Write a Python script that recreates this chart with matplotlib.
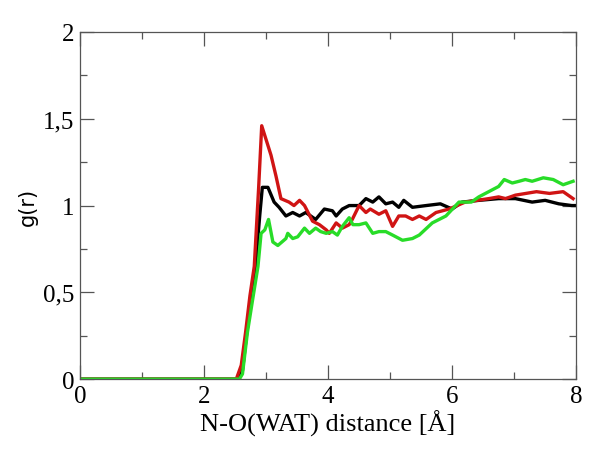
import matplotlib
matplotlib.use('Agg')
import matplotlib.pyplot as plt
from matplotlib.ticker import MultipleLocator, FuncFormatter

# g(r) curves (r in Angstrom)
black_r = [0, 2.55, 2.62, 2.69, 2.76, 2.83, 2.90, 2.94, 3.03, 3.13, 3.21, 3.32,
           3.43, 3.54, 3.64, 3.80, 3.94, 4.07, 4.13, 4.23, 4.34, 4.50, 4.61,
           4.72, 4.82, 4.93, 5.04, 5.14, 5.22, 5.36, 5.58, 5.81, 6.00, 6.16,
           6.43, 6.75, 7.02, 7.29, 7.50, 7.72, 7.93, 8.0]
black_g = [0, 0, 0.05, 0.27, 0.45, 0.65, 0.95, 1.105, 1.105, 1.02, 0.99, 0.94,
           0.96, 0.94, 0.96, 0.92, 0.98, 0.97, 0.94, 0.98, 1.00, 1.00, 1.04,
           1.02, 1.05, 1.01, 1.02, 0.99, 1.03, 0.99, 1.00, 1.01, 0.98, 1.02,
           1.03, 1.04, 1.04, 1.02, 1.03, 1.01, 1.00, 1.00]

red_r = [0, 2.52, 2.60, 2.67, 2.74, 2.81, 2.88, 2.93, 3.08, 3.16, 3.24, 3.37,
         3.45, 3.54, 3.62, 3.75, 3.86, 3.97, 4.02, 4.13, 4.23, 4.34, 4.39,
         4.50, 4.61, 4.68, 4.82, 4.93, 5.04, 5.14, 5.25, 5.36, 5.47, 5.58,
         5.74, 5.95, 6.21, 6.59, 6.75, 6.86, 7.02, 7.36, 7.57, 7.79, 7.95]
red_g = [0, 0, 0.08, 0.27, 0.48, 0.65, 1.10, 1.46, 1.29, 1.17, 1.04, 1.02,
         1.00, 1.03, 1.00, 0.91, 0.89, 0.86, 0.84, 0.90, 0.87, 0.89, 0.92,
         1.00, 0.96, 0.98, 0.95, 0.97, 0.88, 0.94, 0.94, 0.92, 0.94, 0.92,
         0.96, 0.98, 1.02, 1.04, 1.05, 1.04, 1.06, 1.08, 1.07, 1.08, 1.04]

green_r = [0, 2.57, 2.62, 2.70, 2.78, 2.87, 2.92, 2.98, 3.04, 3.11, 3.19, 3.32,
           3.35, 3.43, 3.51, 3.62, 3.70, 3.80, 3.88, 3.97, 4.07, 4.15, 4.23,
           4.34, 4.40, 4.50, 4.61, 4.72, 4.82, 4.93, 5.04, 5.20, 5.36, 5.47,
           5.68, 5.90, 6.11, 6.31, 6.43, 6.59, 6.75, 6.84, 6.97, 7.08, 7.18,
           7.29, 7.47, 7.63, 7.79, 7.95]
green_g = [0, 0, 0.03, 0.27, 0.45, 0.65, 0.84, 0.86, 0.92, 0.79, 0.77, 0.81,
           0.84, 0.81, 0.82, 0.87, 0.84, 0.87, 0.85, 0.84, 0.85, 0.83, 0.88,
           0.93, 0.89, 0.89, 0.90, 0.84, 0.85, 0.85, 0.83, 0.80, 0.81, 0.83,
           0.90, 0.94, 1.02, 1.02, 1.05, 1.08, 1.11, 1.15, 1.13, 1.14, 1.15,
           1.14, 1.16, 1.15, 1.12, 1.14]

plt.rcParams['font.family'] = ['Liberation Serif', 'DejaVu Serif']

fig = plt.figure(figsize=(6, 4.52), dpi=100)
ax = fig.add_axes([0.1333, 0.159, 0.827, 0.768])

ax.plot(black_r, black_g, color='black', lw=2.4)
ax.plot(red_r, red_g, color='#d01414', lw=2.4)
ax.plot(green_r, green_g, color='#28dc28', lw=2.4)

ax.set_xlim(0, 8)
ax.set_ylim(0, 2)
ax.xaxis.set_major_locator(MultipleLocator(2))
ax.xaxis.set_minor_locator(MultipleLocator(1))
ax.yaxis.set_major_locator(MultipleLocator(0.5))
ax.yaxis.set_minor_locator(MultipleLocator(0.25))

comma = FuncFormatter(lambda v, p: ('%g' % v).replace('.', ','))
ax.xaxis.set_major_formatter(comma)
ax.yaxis.set_major_formatter(comma)

ax.tick_params(which='both', direction='in', top=True, right=True,
               color='#555555', labelsize=18, width=0.9)
ax.tick_params(which='major', length=10, pad=4)
ax.tick_params(which='minor', length=5)
for s in ax.spines.values():
    s.set_color('#555555')
    s.set_linewidth(0.9)

ax.set_xlabel('N-O(WAT) distance [Å]', fontsize=19, labelpad=2)
ax.set_ylabel('g(r)', fontsize=15, family='DejaVu Sans', labelpad=4)

fig.savefig('out.png', dpi=100)
